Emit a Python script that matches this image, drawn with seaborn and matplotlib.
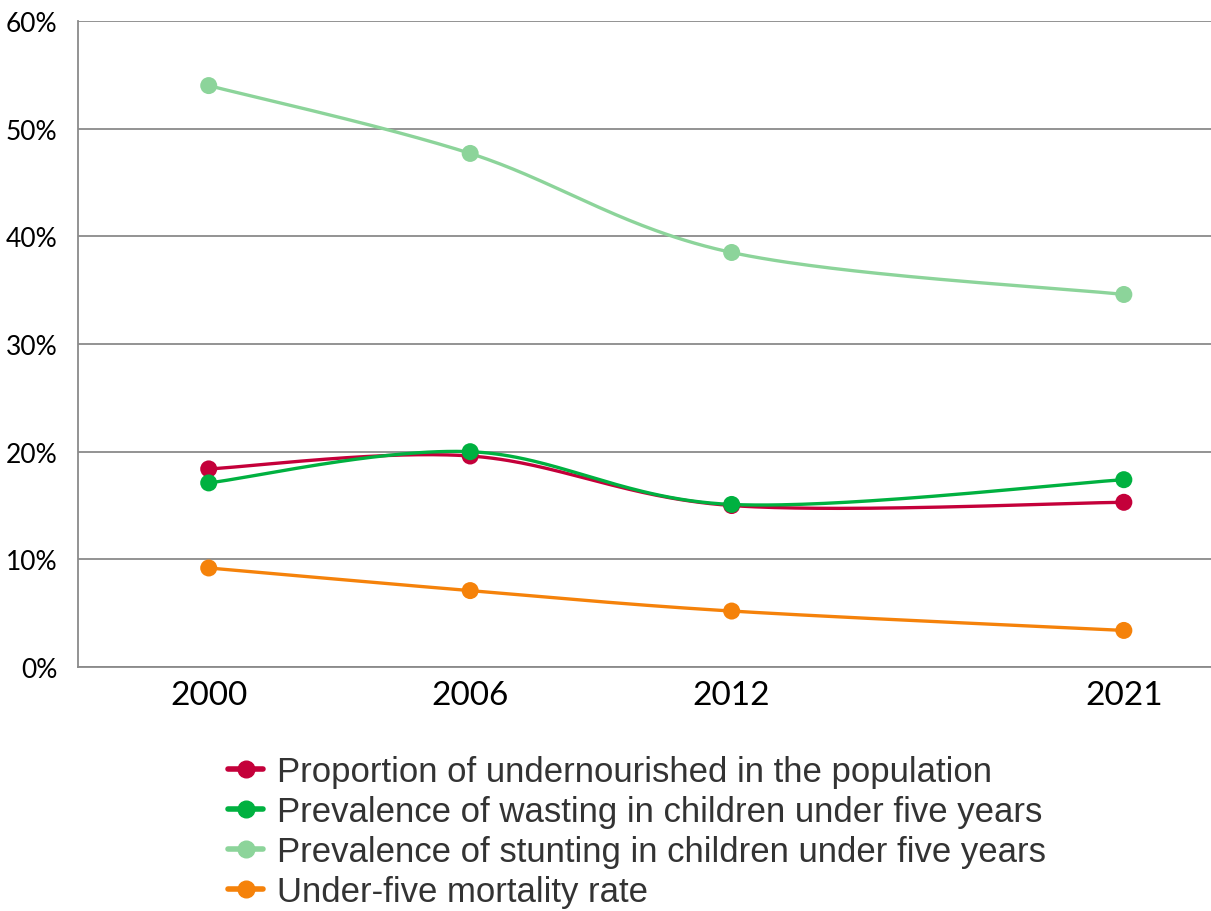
import numpy as np
import pandas as pd
import matplotlib
matplotlib.use('Agg')
import matplotlib.pyplot as plt
from matplotlib.lines import Line2D
import seaborn as sns

sns.set_style('white')

years = [2000, 2006, 2012, 2021]
undernourished = [18.4, 19.6, 15.0, 15.3]
wasting = [17.1, 20.0, 15.1, 17.4]
stunting = [54.0, 47.7, 38.5, 34.6]
mortality = [9.2, 7.1, 5.2, 3.4]

series_names = [
    'Proportion of undernourished in the population',
    'Prevalence of wasting in children under five years',
    'Prevalence of stunting in children under five years',
    'Under-five mortality rate',
]
series_values = [undernourished, wasting, stunting, mortality]
colors = ['#C4003A', '#00B140', '#8CD49A', '#F5820A']
y_ticks = [0, 10, 20, 30, 40, 50, 60]


def smooth_path(x, y, n=60):
    """Catmull-Rom style bezier path through the points (like a spreadsheet 'smoothed line')."""
    pts = np.column_stack([x, y]).astype(float)
    ext = np.vstack([pts[0], pts, pts[-1]])
    out = []
    for i in range(1, len(ext) - 2):
        p0, p1, p2, p3 = ext[i - 1], ext[i], ext[i + 1], ext[i + 2]
        c1 = p1 + (p2 - p0) / 6.0
        c2 = p2 - (p3 - p1) / 6.0
        t = np.linspace(0, 1, n)[:, None]
        seg = ((1 - t) ** 3) * p1 + 3 * ((1 - t) ** 2) * t * c1 + 3 * (1 - t) * t ** 2 * c2 + t ** 3 * p2
        out.append(seg if i == 1 else seg[1:])
    seg = np.vstack(out)
    return seg[:, 0], seg[:, 1]


df = pd.DataFrame({
    'year': years * len(series_names),
    'value': [v for vals in series_values for v in vals],
    'series': [name for name in series_names for _ in years],
})

fig = plt.figure(figsize=(12.11, 9.12), dpi=100)
ax = fig.add_axes([0.0644, 0.2675, 0.9356, 0.7084])

grid_col = '#8a8a8a'
for name, vals, col in zip(series_names, series_values, colors):
    sx, sy = smooth_path(years, vals)
    ax.plot(sx, sy, color=col, lw=2.4, zorder=3, solid_capstyle='round')

sns.scatterplot(data=df, x='year', y='value', hue='series', palette=colors,
                s=150, edgecolor='none', legend=False, ax=ax, zorder=4)

ax.set_xlim(1997, 2023)
ax.set_ylim(0, 60)
ax.set_xticks(years)
ax.set_xticklabels([str(y) for y in years], family='Lato', fontsize=24, color='black')
ax.set_yticks(y_ticks)
ax.set_yticklabels([f'{t}%' for t in y_ticks], family='Lato', fontsize=19, color='black')
ax.set_xlabel('')
ax.set_ylabel('')
ax.grid(axis='y', color=grid_col, lw=1.3)
ax.set_axisbelow(True)
ax.tick_params(axis='y', length=10, width=1.3, color=grid_col, pad=5)
ax.tick_params(axis='x', length=8, width=1.3, color='#333333', pad=1, direction='out')
for side in ['top', 'right']:
    ax.spines[side].set_visible(False)
for side in ['left', 'bottom']:
    ax.spines[side].set_color(grid_col)
    ax.spines[side].set_linewidth(1.3)

handles = [Line2D([0], [0], color=c, lw=4, marker='o', markersize=12) for c in colors]
leg = fig.legend(handles, series_names, loc='upper left', bbox_to_anchor=(0.177, 0.186),
                 frameon=False, prop={'family': 'Liberation Sans', 'size': 25},
                 handlelength=1.0, handletextpad=0.4, labelspacing=0.2, borderaxespad=0)
for t in leg.get_texts():
    t.set_color('#333333')

fig.savefig('out.png', dpi=100)
